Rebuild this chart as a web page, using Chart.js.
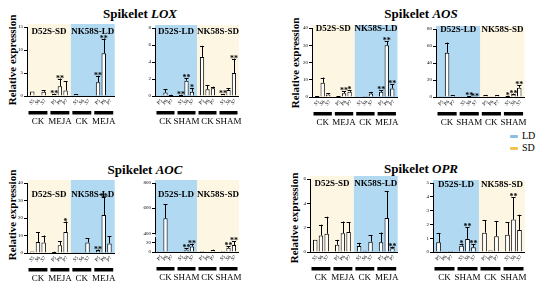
<!DOCTYPE html>
<html>
<head>
<meta charset="utf-8">
<title>Spikelet JA genes</title>
<script src="https://cdn.jsdelivr.net/npm/chart.js"></script>
<style>
  body { margin:0; width:550px; height:288px; background:#fff; position:relative; overflow:hidden; font-family:'Liberation Serif', serif; }
  canvas { position:absolute; }
  .title { position:absolute; font-weight:bold; font-size:13px; transform:translate(-50%,-50%); white-space:nowrap; }
  .ylab { position:absolute; font-weight:bold; font-size:11px; white-space:nowrap; transform:translate(-50%,-50%) rotate(-90deg); }
  .leg { position:absolute; font-size:10px; line-height:10px; }
  .leg span { display:inline-block; width:8px; height:3px; border-radius:1px; margin-right:4px; vertical-align:middle; }
</style>
</head>
<body>
<div class="title" style="left:140px; top:14px">Spikelet <i>LOX</i></div>
<div class="title" style="left:421px; top:14px">Spikelet <i>AOS</i></div>
<div class="title" style="left:145px; top:170px">Spikelet <i>AOC</i></div>
<div class="title" style="left:421px; top:169px">Spikelet <i>OPR</i></div>
<div class="ylab" style="left:12px; top:60px">Relative expression</div>
<div class="ylab" style="left:295px; top:63px">Relative expression</div>
<div class="ylab" style="left:12px; top:215px">Relative expression</div>
<div class="ylab" style="left:294px; top:218px">Relative expression</div>
<div class="leg" style="left:510px; top:131px"><span style="background:#8dbfe3"></span>LD</div>
<div class="leg" style="left:510px; top:143px"><span style="background:#efc450"></span>SD</div>

<script>
// group names under each sub chart
const groupsMeja = ['CK', 'MEJA', 'CK', 'MEJA'];
const groupsSham = ['CK', 'SHAM', 'CK', 'SHAM'];
const stagesS = ['S5', 'S6', 'S7'];
const stagesP = ['P5', 'P6', 'P7'];

// values: 12 bars = 4 groups x 3 stages
const loxMejaMean = [1.0, 0.05, 0.9, 0.4, 2.1, 1.2, 0.3, 0.05, 0.05, 3.0, 9.3, 0.05];
const loxMejaErr  = [0, 0, 0.4, 0.1, 1.7, 2.0, 0.1, 0, 0, 1.4, 3.2, 0];
const loxMejaSig  = ['', '', '', '**', '**', '', '', '', '', '**', '**', ''];

const loxShamMean = [0.02, 0.4, 0.1, 0.1, 1.8, 0.5, 4.6, 0.8, 0.9, 0.2, 0.7, 2.7];
const loxShamErr  = [0, 0.4, 0.05, 0.05, 0.3, 0.4, 1.3, 0.5, 0.2, 0.05, 0.2, 1.7];
const loxShamSig  = ['', '', '', '**', '**', '*', '', '', '', '**', '', '**'];

const aosMejaMean = [0.3, 8.2, 1.5, 0.2, 2.2, 3.0, 0.1, 0.05, 2.0, 3.0, 30, 5.0];
const aosMejaErr  = [0.1, 3.1, 0.6, 0.1, 1.1, 1.0, 0, 0, 1.0, 0.8, 2.5, 2.5];
const aosMejaSig  = ['', '', '', '', '**', '*', '', '', '', '**', '**', '**'];

const aosShamMean = [0.3, 52, 1.5, 0.2, 0.5, 0.3, 2.0, 0.3, 1.5, 1.0, 3.0, 11];
const aosShamErr  = [0, 12, 0.3, 0, 0.2, 0.1, 0.5, 0, 0.3, 0.5, 1.0, 3];
const aosShamSig  = ['', '', '', '', '**', '**', '', '', '', '*', '**', '**'];

const aocMejaMean = [0.8, 6.3, 6.0, 0.5, 4.4, 12, 0.2, 0.1, 6.0, 1.5, 21.7, 5.5];
const aocMejaErr  = [0, 5.7, 4.0, 0.2, 2.3, 6, 0, 0, 2.5, 0.5, 10.5, 4.0];
const aocMejaSig  = ['', '', '', '', '', '*', '', '', '', '**', '**', ''];

const aocShamMean = [0.5, 520, 1.0, 1.0, 5, 12, 2, 0.5, 4, 2, 9, 15];
const aocShamErr  = [0, 110, 0, 0, 3, 6, 0, 0, 1, 0, 4, 8];
const aocShamSig  = ['', '', '', '', '**', '**', '', '', '', '', '**', '**'];

const oprMejaMean = [1.0, 1.35, 1.5, 0.6, 1.55, 1.65, 0.5, 0.1, 0.85, 0.8, 2.8, 0.3];
const oprMejaErr  = [0, 0.9, 1.4, 0.4, 0.95, 0.8, 0.25, 0, 0.55, 0.8, 2.2, 0.15];
const oprMejaSig  = ['', '', '', '', '', '', '', '', '', '', '', '**'];

const oprShamMean = [0.7, 0.05, 0.08, 0.45, 0.95, 0.35, 1.4, 0.1, 1.15, 1.25, 2.35, 1.6];
const oprShamErr  = [0.65, 0, 0, 0.15, 0.85, 0.2, 0.9, 0, 1.1, 0.9, 1.6, 1.1];
const oprShamSig  = ['', '', '', '*', '**', '**', '', '', '', '', '**', ''];

// broken axis ticks for AOC (right)
const brokenTicks = [0, 10, 20, 30, 400, 500, 600, 700, 800];

const SD_BG = '#fdf6e3';
const LD_BG = '#b2d9f2';
const FONT = '"Liberation Serif", serif';
const YW = 20;

// y mapping with a gap between 30 and 400
function brokenDecimal(v) {
  if (v <= 30) return v / 30 * 0.2;
  if (v < 400) return 0.2 + (v - 30) / 370 * 0.07;
  return 0.27 + (v - 400) / 400 * 0.73;
}

class BrokenScale extends Chart.LinearScale {
  buildTicks() {
    return brokenTicks.map(v => ({ value: v }));
  }
  getPixelForValue(v) {
    return this.getPixelForDecimal(brokenDecimal(v));
  }
  getValueForPixel(p) {
    const d = this.getDecimalForPixel(p);
    if (d <= 0.2) return d / 0.2 * 30;
    if (d < 0.27) return 30 + (d - 0.2) / 0.07 * 370;
    return 400 + (d - 0.27) / 0.73 * 400;
  }
}
BrokenScale.id = 'broken';
BrokenScale.defaults = Chart.LinearScale.defaults;
Chart.register(BrokenScale);

const decor = {
  id: 'decor',
  beforeDraw(chart, args, o) {
    const { ctx, chartArea: a } = chart;
    const mid = (a.left + a.right) / 2;
    ctx.save();
    ctx.fillStyle = o.bg[0];
    ctx.fillRect(a.left, a.top - 3, mid - a.left, a.bottom - a.top + 3);
    ctx.fillStyle = o.bg[1];
    ctx.fillRect(mid, a.top - 3, a.right - mid, a.bottom - a.top + 3);
    ctx.fillStyle = '#000';
    ctx.font = 'bold 9px ' + FONT;
    ctx.textAlign = 'center';
    ctx.textBaseline = 'middle';
    ctx.fillText(o.names[0], (a.left + mid) / 2, a.top + o.nameDy);
    ctx.fillText(o.names[1], (mid + a.right) / 2, a.top + o.nameDy);
    ctx.restore();
  },
  afterDatasetsDraw(chart, args, o) {
    const { ctx, chartArea: a } = chart;
    const y = chart.scales.y, x = chart.scales.x;
    ctx.save();
    ctx.strokeStyle = '#000';
    ctx.fillStyle = '#000';
    ctx.lineWidth = 1;
    for (let s = 0; s < 3; s++) {
      chart.getDatasetMeta(s).data.forEach((bar, g) => {
        const i = g * 3 + s;
        const top = y.getPixelForValue(o.mean[i] + o.err[i]);
        if (o.err[i] > 0) {
          ctx.beginPath();
          ctx.moveTo(Math.round(bar.x) + 0.5, bar.y);
          ctx.lineTo(Math.round(bar.x) + 0.5, top);
          ctx.moveTo(bar.x - 2, Math.round(top) + 0.5);
          ctx.lineTo(bar.x + 2, Math.round(top) + 0.5);
          ctx.stroke();
        }
        if (o.sig[i]) {
          ctx.font = 'bold 8px ' + FONT;
          ctx.textAlign = 'center';
          ctx.textBaseline = 'alphabetic';
          ctx.fillText(o.sig[i], bar.x, top + 2);
        }
        // stage label under the bar
        ctx.save();
        ctx.font = '5px ' + FONT;
        ctx.translate(bar.x + 1.5, a.bottom + 4);
        ctx.rotate(-Math.PI / 4);
        ctx.textAlign = 'right';
        ctx.textBaseline = 'middle';
        ctx.fillText(o.stages[g][s], 0, 0);
        ctx.restore();
      });
    }
    // black bar under each group
    const half = (a.right - a.left) / 8 - 1.5;
    for (let g = 0; g < 4; g++) {
      const cx = x.getPixelForValue(g);
      ctx.fillRect(cx - half, a.bottom + 15, half * 2, 3.5);
    }
    if (o.broken) {
      const p1 = y.getPixelForValue(30) - 1, p2 = y.getPixelForValue(400) + 1;
      ctx.fillStyle = '#fff';
      ctx.fillRect(a.left - 4, p2, 4, p1 - p2);
      ctx.fillStyle = o.bg[0];
      ctx.fillRect(a.left, p2, 1.5, p1 - p2);
    }
    ctx.restore();
  }
};

function makeChart(spec) {
  const cv = document.createElement('canvas');
  cv.width = spec.right - spec.axis + YW + 4;
  cv.height = spec.height;
  cv.style.left = (spec.axis - YW) + 'px';
  cv.style.top = spec.top + 'px';
  document.body.appendChild(cv);

  const stages = spec.leftFirst ? [stagesS, stagesP, stagesS, stagesP] : [stagesP, stagesS, stagesP, stagesS];
  const datasets = [0, 1, 2].map(s => ({
    data: spec.groups.map((g, gi) => spec.mean[gi * 3 + s]),
    backgroundColor: '#fff',
    borderColor: '#000',
    borderWidth: 1,
    barPercentage: 0.78,
    categoryPercentage: 0.78
  }));

  const yScale = {
    type: spec.broken ? 'broken' : 'linear',
    min: 0,
    max: spec.max,
    border: { display: true, color: '#000', width: 1 },
    grid: { display: true, drawOnChartArea: false, drawTicks: true, tickLength: 3, color: '#000' },
    ticks: { stepSize: spec.step, font: { size: 5, family: FONT }, color: '#000', padding: 1 },
    afterFit: s => { s.width = YW; }
  };

  new Chart(cv, {
    type: 'bar',
    data: { labels: spec.groups, datasets },
    options: {
      responsive: false,
      animation: false,
      layout: { padding: { top: spec.padTop, right: 4, left: 0, bottom: 0 } },
      plugins: {
        legend: { display: false },
        tooltip: { enabled: false },
        decor: {
          bg: spec.bg, names: spec.names, nameDy: spec.nameDy,
          mean: spec.mean, err: spec.err, sig: spec.sig,
          stages, broken: spec.broken
        }
      },
      scales: {
        x: {
          grid: { display: false, drawTicks: false },
          border: { display: true, color: '#000', width: 1 },
          ticks: { font: { size: 9, family: FONT }, color: '#000', padding: 20, maxRotation: 0, autoSkip: false },
          afterFit: s => { s.height = spec.xh; }
        },
        y: yScale
      }
    },
    plugins: [decor]
  });
}

makeChart({ axis: 27, right: 132, top: 20, height: 110, padTop: 7, xh: 34, max: 15, step: 5,
  groups: groupsMeja, mean: loxMejaMean, err: loxMejaErr, sig: loxMejaSig, leftFirst: true,
  bg: [SD_BG, LD_BG], names: ['D52S-SD', 'NK58S-LD'], nameDy: 5 });
makeChart({ axis: 155, right: 258, top: 20, height: 110, padTop: 8, xh: 34, max: 8, step: 2,
  groups: groupsSham, mean: loxShamMean, err: loxShamErr, sig: loxShamSig, leftFirst: false,
  bg: [LD_BG, SD_BG], names: ['D52S-LD', 'NK58S-SD'], nameDy: 4 });
makeChart({ axis: 312, right: 415, top: 21, height: 110, padTop: 7, xh: 34, max: 40, step: 10,
  groups: groupsMeja, mean: aosMejaMean, err: aosMejaErr, sig: aosMejaSig, leftFirst: true,
  bg: [SD_BG, LD_BG], names: ['D52S-SD', 'NK58S-LD'], nameDy: 1 });
makeChart({ axis: 436, right: 543, top: 21, height: 110, padTop: 8, xh: 34, max: 80, step: 20,
  groups: groupsSham, mean: aosShamMean, err: aosShamErr, sig: aosShamSig, leftFirst: false,
  bg: [LD_BG, SD_BG], names: ['D52S-LD', 'NK58S-SD'], nameDy: 1 });

makeChart({ axis: 27, right: 132, top: 172, height: 116, padTop: 11, xh: 35, max: 40, step: 10,
  groups: groupsMeja, mean: aocMejaMean, err: aocMejaErr, sig: aocMejaSig, leftFirst: true,
  bg: [SD_BG, LD_BG], names: ['D52S-SD', 'NK58S-LD'], nameDy: 12 });
makeChart({ axis: 155, right: 258, top: 172, height: 115, padTop: 11, xh: 35, max: 800, broken: true,
  groups: groupsSham, mean: aocShamMean, err: aocShamErr, sig: aocShamSig, leftFirst: false,
  bg: [LD_BG, SD_BG], names: ['D52S-LD', 'NK58S-SD'], nameDy: 12 });
makeChart({ axis: 310, right: 415, top: 172, height: 115, padTop: 7, xh: 35, max: 6, step: 2,
  groups: groupsMeja, mean: oprMejaMean, err: oprMejaErr, sig: oprMejaSig, leftFirst: true,
  bg: [SD_BG, LD_BG], names: ['D52S-SD', 'NK58S-LD'], nameDy: 5 });
makeChart({ axis: 433, right: 543, top: 172, height: 115, padTop: 11, xh: 35, max: 5, step: 1,
  groups: groupsSham, mean: oprShamMean, err: oprShamErr, sig: oprShamSig, leftFirst: false,
  bg: [LD_BG, SD_BG], names: ['D52S-LD', 'NK58S-SD'], nameDy: 2 });
</script>
</body>
</html>
